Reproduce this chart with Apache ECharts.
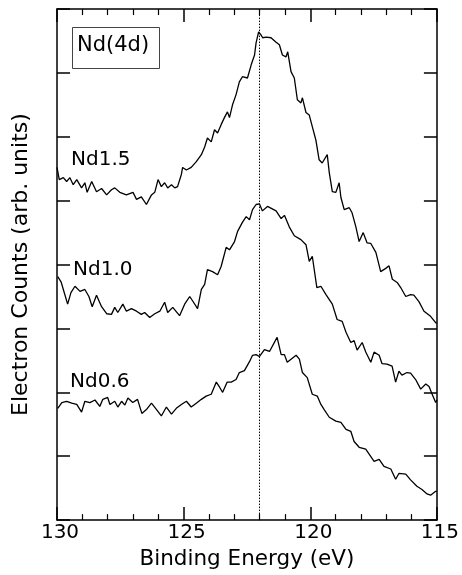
<!DOCTYPE html>
<html>
<head>
<meta charset="utf-8">
<script src="https://cdn.jsdelivr.net/npm/echarts@6/dist/echarts.min.js"></script>
<style>
html,body{margin:0;padding:0;background:#fff;}
#chart{width:462px;height:575px;}
</style>
</head>
<body>
<div id="chart"></div>
<script>
// Binding energy (eV) and counts (arb. units, offset spectra)
var energyNd15 = [130.00,129.91,129.75,129.62,129.49,129.36,129.22,129.03,128.90,128.81,128.63,128.44,128.24,128.04,127.85,127.72,127.52,127.26,127.00,126.86,126.67,126.47,126.27,126.14,126.01,125.88,125.75,125.63,125.48,125.35,125.24,125.09,125.04,124.89,124.70,124.50,124.30,124.17,124.06,123.91,123.78,123.66,123.52,123.39,123.27,123.19,123.07,122.93,122.80,122.68,122.48,122.33,122.20,122.14,122.04,121.94,121.88,121.74,121.55,121.35,121.22,121.10,120.96,120.89,120.76,120.63,120.51,120.37,120.31,120.17,120.04,119.92,119.78,119.65,119.53,119.33,119.25,119.13,118.99,118.86,118.79,118.66,118.46,118.35,118.20,118.07,117.91,117.76,117.61,117.41,117.22,117.02,116.89,116.76,116.57,116.43,116.23,116.04,115.91,115.71,115.51,115.25,115.05,115.00];
var countsNd15 = [5.52,5.33,5.36,5.30,5.36,5.25,5.33,5.20,5.28,5.13,5.30,5.14,5.19,5.09,5.17,5.20,5.13,5.09,5.13,5.02,5.06,4.94,5.09,5.13,5.33,5.22,5.28,5.20,5.25,5.20,5.22,5.41,5.52,5.48,5.52,5.61,5.72,5.84,5.98,5.92,6.11,6.06,6.19,6.30,6.39,6.30,6.50,6.66,6.86,6.94,6.92,7.13,7.28,7.47,7.64,7.59,7.55,7.56,7.55,7.48,7.44,7.28,7.25,7.33,7.02,6.92,6.58,6.53,6.61,6.38,6.34,6.16,5.95,5.64,5.59,5.72,5.44,5.14,5.13,5.28,5.05,4.86,4.89,4.81,4.59,4.36,4.50,4.34,4.33,4.19,3.89,3.94,3.98,3.77,3.72,3.64,3.50,3.53,3.52,3.42,3.27,3.19,3.09,3.08];

var energyNd10 = [129.97,129.84,129.58,129.45,129.29,129.09,128.90,128.74,128.61,128.44,128.24,128.04,127.85,127.72,127.60,127.40,127.26,127.06,126.86,126.67,126.54,126.34,126.14,125.94,125.75,125.63,125.43,125.16,124.96,124.76,124.61,124.45,124.30,124.17,124.06,123.86,123.66,123.52,123.32,123.19,122.99,122.87,122.68,122.53,122.40,122.28,122.14,122.01,121.89,121.69,121.35,121.15,121.02,120.83,120.63,120.37,120.17,120.04,119.92,119.74,119.58,119.38,119.13,118.94,118.74,118.59,118.40,118.27,118.15,117.95,117.81,117.61,117.48,117.28,117.17,116.97,116.77,116.63,116.50,116.38,116.18,116.04,115.84,115.64,115.44,115.31,115.20,115.05,115.00];
var countsNd10 = [3.81,3.73,3.38,3.56,3.66,3.58,3.61,3.50,3.34,3.52,3.34,3.23,3.22,3.33,3.25,3.38,3.27,3.31,3.27,3.22,3.25,3.17,3.23,3.27,3.41,3.25,3.33,3.20,3.38,3.50,3.41,3.31,3.61,3.69,3.92,3.89,3.84,3.97,4.27,4.23,4.36,4.52,4.66,4.75,4.70,4.86,4.94,4.95,4.84,4.91,4.84,4.72,4.77,4.59,4.45,4.39,4.31,4.05,4.13,3.64,3.66,3.53,3.38,3.14,3.11,2.94,2.78,2.81,2.66,2.78,2.63,2.47,2.63,2.58,2.45,2.44,2.41,2.16,2.33,2.27,2.31,2.30,2.20,2.05,2.13,2.09,1.98,1.84,1.88];

var energyNd06 = [129.97,129.81,129.62,129.42,129.22,129.03,128.90,128.70,128.50,128.31,128.19,128.00,127.91,127.72,127.60,127.45,127.32,127.20,127.01,126.82,126.65,126.47,126.27,126.07,125.88,125.68,125.48,125.29,125.09,124.89,124.70,124.50,124.30,124.11,123.91,123.71,123.58,123.46,123.28,123.12,122.93,122.80,122.60,122.40,122.28,122.14,122.01,121.81,121.61,121.31,121.15,121.02,120.91,120.56,120.43,120.31,120.12,119.92,119.72,119.58,119.45,119.25,118.99,118.79,118.59,118.40,118.27,118.07,117.81,117.48,117.28,117.09,116.82,116.63,116.50,116.23,116.04,115.79,115.59,115.39,115.25,115.05,115.00];
var countsNd06 = [1.75,1.84,1.86,1.83,1.81,1.69,1.86,1.84,1.88,1.78,1.89,1.92,1.81,1.86,1.77,1.86,1.80,1.91,1.84,1.89,1.67,1.73,1.83,1.73,1.63,1.77,1.66,1.75,1.81,1.86,1.77,1.83,1.89,1.94,1.97,2.16,2.08,2.00,2.16,2.16,2.20,2.31,2.34,2.48,2.58,2.59,2.56,2.67,2.64,2.86,2.59,2.59,2.47,2.58,2.52,2.31,2.23,1.97,1.94,1.81,1.73,1.61,1.55,1.53,1.42,1.39,1.23,1.14,1.11,0.92,0.95,0.84,0.80,0.64,0.73,0.72,0.63,0.53,0.48,0.41,0.39,0.45,0.45];

var seriesNames = ['Nd1.5','Nd1.0','Nd0.6'];
var xTickValues = [130,125,120,115];
var peakLine = 122;

function pairs(e, c){ return e.map(function(v,i){ return [v, c[i]]; }); }

var FONT = '"DejaVu Sans", sans-serif';
var chart = echarts.init(document.getElementById('chart'), null, {renderer:'canvas'});

function xAx(pos, showLabel, name){
  return {
    type:'value', min:115, max:130, interval:5, inverse:true, position:pos,
    axisLine:{show:true, onZero:false, lineStyle:{color:'#000', width:1.5}},
    axisTick:{show:true, inside:true, length:13, lineStyle:{color:'#000', width:1.5}},
    minorTick:{show:true, splitNumber:5, length:6, lineStyle:{color:'#000', width:1.2}},
    splitLine:{show:false}, minorSplitLine:{show:false},
    axisLabel:{show:showLabel, color:'#000', fontSize:20, fontFamily:FONT, margin:3, padding:[0,0,0,6]},
    name:name, nameLocation:'middle', nameGap:26,
    nameTextStyle:{color:'#000', fontSize:21.5, fontFamily:FONT}
  };
}
function yAx(pos, name){
  return {
    type:'value', min:0, max:8, interval:1, position:pos,
    axisLine:{show:true, onZero:false, lineStyle:{color:'#000', width:1.5}},
    axisTick:{show:true, inside:true, length:13, lineStyle:{color:'#000', width:1.5}},
    splitLine:{show:false},
    axisLabel:{show:false},
    name:name, nameLocation:'middle', nameGap:25, nameRotate:90,
    nameTextStyle:{color:'#000', fontSize:22, fontFamily:FONT}
  };
}

var lineStyle = {color:'#000', width:1.3};
var option = {
  animation:false,
  backgroundColor:'#fff',
  grid:{left:57, right:24, top:9, bottom:54, containLabel:false},
  xAxis:[xAx('bottom', true, 'Binding Energy (eV)'), xAx('top', false, '')],
  yAxis:[yAx('left', 'Electron Counts (arb. units)'), yAx('right', '')],
  series:[
    {name:seriesNames[0], type:'line', data:pairs(energyNd15, countsNd15), showSymbol:false, symbol:'none', lineStyle:lineStyle, z:3,
     markLine:{silent:true, symbol:'none', label:{show:false}, lineStyle:{color:'#000', type:[1.5,1.5], width:1}, data:[{xAxis:peakLine}]}},
    {name:seriesNames[1], type:'line', data:pairs(energyNd10, countsNd10), showSymbol:false, symbol:'none', lineStyle:lineStyle, z:3},
    {name:seriesNames[2], type:'line', data:pairs(energyNd06, countsNd06), showSymbol:false, symbol:'none', lineStyle:lineStyle, z:3}
  ],
  graphic:[
    {type:'rect', left:72, top:27, shape:{width:87, height:41}, style:{fill:'#fff', stroke:'#444', lineWidth:1}, z:10},
    {type:'text', left:77, top:35, style:{text:'Nd(4d)', fill:'#000', font:'21px ' + FONT}, z:11},
    {type:'text', left:71, top:150, style:{text:seriesNames[0], fill:'#000', font:'20px ' + FONT}, z:11},
    {type:'text', left:73, top:260, style:{text:seriesNames[1], fill:'#000', font:'20px ' + FONT}, z:11},
    {type:'text', left:70, top:372, style:{text:seriesNames[2], fill:'#000', font:'20px ' + FONT}, z:11}
  ]
};
chart.setOption(option);
</script>
</body>
</html>
